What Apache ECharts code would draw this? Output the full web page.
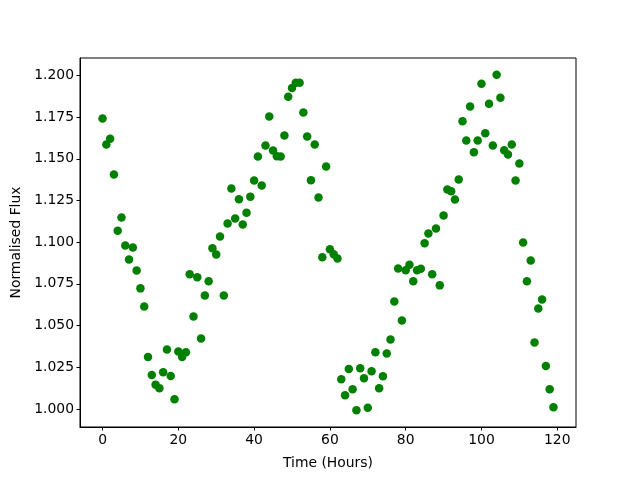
<!DOCTYPE html>
<html>
<head>
<meta charset="utf-8">
<script src="https://cdn.jsdelivr.net/npm/echarts@6/dist/echarts.min.js"></script>
<style>
  html, body { margin: 0; padding: 0; background: #fff; }
</style>
</head>
<body>
<div id="flux" style="width: 640px; height: 480px"></div>
<script type="text/javascript">
// hours 0..119
var hours = [];
for (var h = 0; h < 120; h++) hours.push(h);

var flux = [
  1.1741, 1.1585, 1.1620, 1.1405, 1.1068, 1.1148, 1.0980, 1.0896, 1.0968, 1.0830,
  1.0723, 1.0615, 1.0311, 1.0204, 1.0146, 1.0124, 1.0220, 1.0357, 1.0198, 1.0058,
  1.0345, 1.0311, 1.0340, 1.0807, 1.0555, 1.0789, 1.0423, 1.0681, 1.0765, 1.0964,
  1.0926, 1.1034, 1.0681, 1.1112, 1.1321, 1.1142, 1.1257, 1.1106, 1.1176, 1.1273,
  1.1370, 1.1513, 1.1340, 1.1579, 1.1753, 1.1549, 1.1515, 1.1513, 1.1639, 1.1872,
  1.1924, 1.1956, 1.1956, 1.1777, 1.1633, 1.1371, 1.1585, 1.1268, 1.0910, 1.1453,
  1.0958, 1.0928, 1.0902, 1.0178, 1.0082, 1.0240, 1.0118, 0.9992, 1.0244, 1.0184,
  1.0008, 1.0226, 1.0340, 1.0124, 1.0196, 1.0333, 1.0417, 1.0645, 1.0842, 1.0531,
  1.0832, 1.0864, 1.0766, 1.0832, 1.0840, 1.0994, 1.1052, 1.0807, 1.1082, 1.0741,
  1.1160, 1.1316, 1.1305, 1.1256, 1.1376, 1.1725, 1.1609, 1.1813, 1.1539, 1.1609,
  1.1950, 1.1653, 1.1830, 1.1579, 1.2004, 1.1866, 1.1551, 1.1525, 1.1585, 1.1370,
  1.1471, 1.0998, 1.0765, 1.0890, 1.0399, 1.0603, 1.0657, 1.0257, 1.0118, 1.0010
];

var xTicks = [0, 20, 40, 60, 80, 100, 120];
var yTicks = [1.000, 1.025, 1.050, 1.075, 1.100, 1.125, 1.150, 1.175, 1.200];

var points = [];
for (var i = 0; i < hours.length; i++) {
  points.push([hours[i], flux[i]]);
}

var font = "DejaVu Sans";
var myChart = echarts.init(document.getElementById("flux"), null, { renderer: "canvas" });

var option = {
  animation: false,
  backgroundColor: "#fff",
  textStyle: { fontFamily: font, color: "#000" },
  grid: {
    left: 80,
    right: 64,
    top: 58,
    bottom: 53,
    show: true,
    borderColor: "#000",
    borderWidth: 1,
    backgroundColor: "transparent"
  },
  xAxis: {
    type: "value",
    min: -5.95,
    max: 124.95,
    name: "Time (Hours)",
    nameLocation: "middle",
    nameGap: 29,
    nameTextStyle: { fontFamily: font, fontSize: 13.9, color: "#000" },
    axisLine: { show: true, onZero: false, lineStyle: { color: "#000", width: 1 } },
    axisTick: { show: true, length: 3.5, customValues: xTicks, lineStyle: { color: "#000" } },
    axisLabel: { customValues: xTicks, margin: 6, fontFamily: font, fontSize: 13.9, color: "#000" },
    splitLine: { show: false }
  },
  yAxis: {
    type: "value",
    min: 0.9892,
    max: 1.2104,
    name: "Normalised Flux",
    nameLocation: "middle",
    nameGap: 56,
    nameTextStyle: { fontFamily: font, fontSize: 13.9, color: "#000" },
    axisLine: { show: true, onZero: false, lineStyle: { color: "#000", width: 1 } },
    axisTick: { show: true, length: 3.5, customValues: yTicks, lineStyle: { color: "#000" } },
    axisLabel: {
      customValues: yTicks,
      margin: 6,
      fontFamily: font,
      fontSize: 13.9,
      color: "#000",
      formatter: function (v) { return v.toFixed(3); }
    },
    splitLine: { show: false }
  },
  series: [
    {
      type: "scatter",
      data: points,
      symbol: "circle",
      symbolSize: 8.5,
      itemStyle: { color: "#008000", opacity: 1 }
    }
  ]
};
myChart.setOption(option);
</script>
</body>
</html>
